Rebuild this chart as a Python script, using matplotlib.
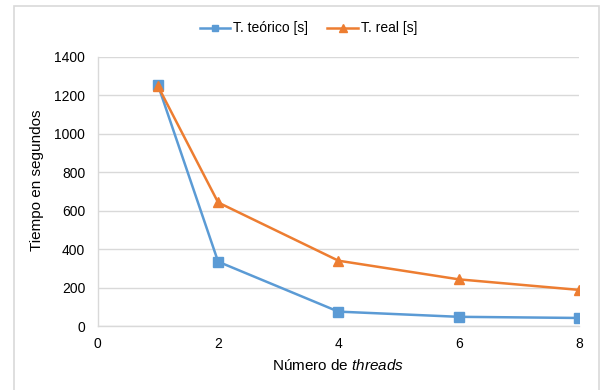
import matplotlib.pyplot as plt
from matplotlib.patches import Rectangle

threads = [1, 2, 4, 6, 8]
t_teorico = [1254, 335, 75, 48, 42]
t_real = [1248, 643, 340, 243, 188]

plt.rcParams['font.family'] = ['Liberation Sans', 'DejaVu Sans']
plt.rcParams['mathtext.fontset'] = 'custom'
plt.rcParams['mathtext.rm'] = 'Liberation Sans'
plt.rcParams['mathtext.it'] = 'Liberation Sans:italic'

fig = plt.figure(figsize=(6, 3.9), dpi=100)
ax = fig.add_axes([0.163, 0.164, 0.802, 0.690])

# outer chart border
fig.patches.append(Rectangle((14 / 600, -0.1), 585 / 600, 1.1 - 6 / 390,
                             transform=fig.transFigure, fill=False,
                             edgecolor='#d9d9d9', linewidth=1.2))

ax.plot(threads, t_teorico, color='#5b9bd5', linewidth=1.8, marker='s',
        markersize=6.5, label='T. teórico [s]', zorder=3)
ax.plot(threads, t_real, color='#ed7d31', linewidth=1.8, marker='^',
        markersize=7, label='T. real [s]', zorder=3)

ax.set_xlim(0, 8)
ax.set_ylim(0, 1400)
ax.set_xticks(range(0, 9, 2))
ax.set_yticks(range(0, 1401, 200))
ax.yaxis.grid(True, color='#d9d9d9', linewidth=1)
ax.set_axisbelow(True)

for side in ['top', 'right']:
    ax.spines[side].set_visible(False)
for side in ['left', 'bottom']:
    ax.spines[side].set_color('#d9d9d9')
    ax.spines[side].set_linewidth(1)

ax.tick_params(length=0, labelsize=10, pad=9)
ax.tick_params(axis='x', pad=8)

ax.set_ylabel('Tiempo en segundos', fontsize=11)
ax.yaxis.set_label_coords(-0.112, 0.543)
ax.set_xlabel('Número de $\\it{threads}$', fontsize=11, labelpad=5)

fig.legend(loc='upper center', bbox_to_anchor=(0.514, 0.977), ncol=2,
           frameon=False, fontsize=10, handlelength=2.2, columnspacing=1.4,
           handletextpad=0.2, markerscale=0.75)

fig.savefig('out.png', dpi=100)
